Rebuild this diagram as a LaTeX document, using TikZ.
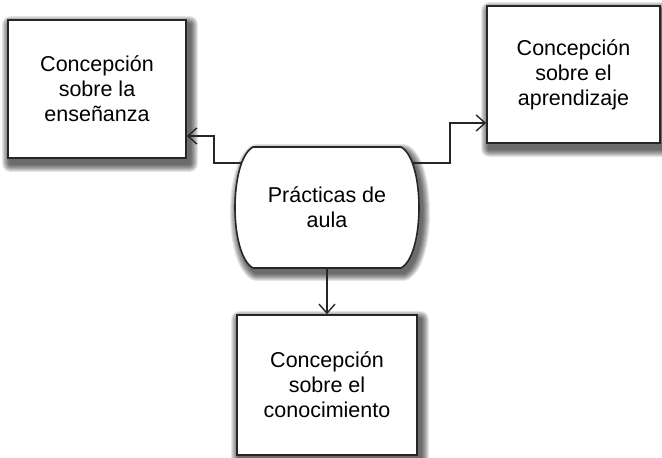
\documentclass[tikz,border=0pt]{standalone}
\usepackage{fontspec}
\setmainfont{Liberation Sans}
\usetikzlibrary{arrows.meta,backgrounds,calc}
\begin{document}
\begin{tikzpicture}[x=1pt,y=1pt,
  boxstyle/.style={draw=black!85, line width=1.6pt, fill=white, align=center,
    inner sep=0pt, font=\fontsize{21.5}{25}\selectfont},
  conn/.style={draw=black!85, line width=1.5pt, -{Straight Barb[length=9pt,width=16pt,line width=1.4pt]}},
  txt/.style={align=center, font=\fontsize{21.5}{25}\selectfont, inner sep=0pt},
  shadowlayer/.style={fill=black, opacity=0.1}]
\useasboundingbox (0,0) rectangle (662,458);
\node[boxstyle, minimum width=178pt, minimum height=138pt] (L) at (97,369) {Concepción\\sobre la\\enseñanza};
\node[boxstyle, minimum width=173pt, minimum height=137pt] (R) at (573.5,383.5) {Concepción\\sobre el\\aprendizaje};
\node[boxstyle, minimum width=180pt, minimum height=140pt] (B) at (327,73) {Concepción\\sobre el\\conocimiento};
% central shape
\path[draw=black!85, line width=1.6pt, fill=white]
  (253,311) -- (401,311) .. controls (425,298) and (425,203) .. (401,190)
  -- (253,190) .. controls (229,203) and (229,298) .. (253,311) -- cycle;
\node[txt, minimum width=150pt, minimum height=110pt] (C) at (327,250.5) {Prácticas de\\aula};
\begin{scope}[on background layer]
  \foreach \n in {L,R,B}{
    \foreach \e in {8,7,...,1}{
      \fill[shadowlayer, rounded corners=\e pt]
        ($(\n.south west)+(3-\e,-5-\e)$) rectangle ($(\n.north east)+(3+\e,-5+\e)$);
    }
  }
  \foreach \e in {8,7,...,1}{
    \begin{scope}[transparency group, opacity=0.1, shift={(3,-5)}]
      \filldraw[black, line width=2*\e pt, line join=round]
        (253,311) -- (401,311) .. controls (425,298) and (425,203) .. (401,190)
        -- (253,190) .. controls (229,203) and (229,298) .. (253,311) -- cycle;
    \end{scope}
  }
\end{scope}
\coordinate (cl) at (241.4,295);
\coordinate (cr) at (412.6,295);
\coordinate (cb) at (327,190);
\draw[conn] (cl) -| (214,322) -- (L.east |- 0,322);
\draw[conn] (cr) -| (450,335) -- (R.west |- 0,335);
\draw[conn] (cb) -- (B.north -| cb);
\end{tikzpicture}
\end{document}
